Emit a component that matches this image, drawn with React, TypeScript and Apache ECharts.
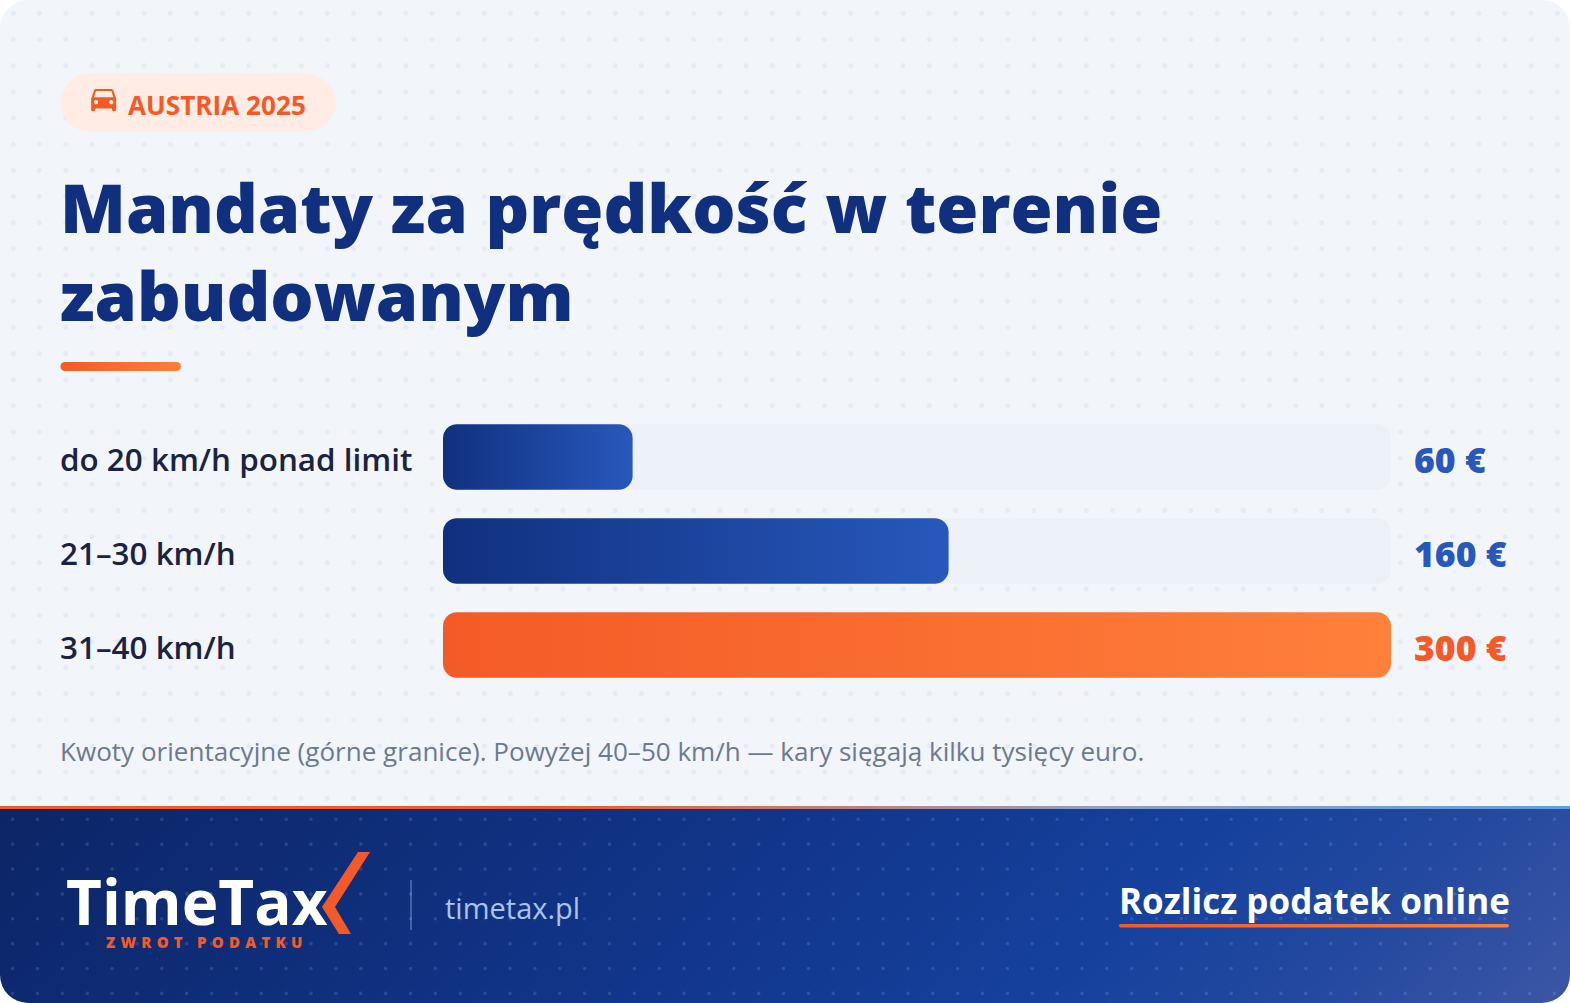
import { useEffect, useRef } from 'react';
import * as echarts from 'echarts';

const categories = ['do 20 km/h ponad limit', '21–30 km/h', '31–40 km/h'];
const fines = [60, 160, 300];
const unit = '€';

const FONT = '"Open Sans", "Noto Sans", sans-serif';
const NAVY = '#10307f';
const BLUE = '#2858bc';
const ORANGE = '#f45a27';
const ORANGE_LIGHT = '#ff803b';

const carIcon =
  'M18.92 6.01C18.72 5.42 18.16 5 17.5 5h-11c-.66 0-1.21.42-1.42 1.01L3 12v8c0 .55.45 1 1 1h1c.55 0 1-.45 1-1v-1h12v1c0 .55.45 1 1 1h1c.55 0 1-.45 1-1v-8l-2.08-5.99zM6.5 16c-.83 0-1.5-.67-1.5-1.5S5.67 13 6.5 13s1.5.67 1.5 1.5S7.33 16 6.5 16zm11 0c-.83 0-1.5-.67-1.5-1.5s.67-1.5 1.5-1.5 1.5.67 1.5 1.5-.67 1.5-1.5 1.5zM5 11l1.5-4.5h11L19 11H5z';

echarts.graphic.registerShape('carIcon', echarts.graphic.extendPath(carIcon, {}));
echarts.graphic.registerShape(
  'dotGrid',
  echarts.graphic.extendShape({
    shape: { x0: 0, y0: 0, step: 10, cols: 1, rows: 1, r: 1 },
    buildPath(ctx: any, s: any) {
      for (let i = 0; i < s.cols; i++) {
        for (let j = 0; j < s.rows; j++) {
          const x = s.x0 + i * s.step;
          const y = s.y0 + j * s.step;
          ctx.moveTo(x + s.r, y);
          ctx.arc(x, y, s.r, 0, Math.PI * 2);
        }
      }
    },
  }),
);

const hGradient = (from: string, to: string) =>
  new echarts.graphic.LinearGradient(0, 0, 1, 0, [
    { offset: 0, color: from },
    { offset: 1, color: to },
  ]);

const text = (
  x: number,
  y: number,
  value: string,
  fontSize: number,
  fontWeight: number,
  fill: string,
) => ({
  type: 'text',
  x,
  y,
  style: { text: value, fontFamily: FONT, fontSize, fontWeight, fill, textVerticalAlign: 'bottom' },
});

export default function App() {
  const ref = useRef<HTMLDivElement | null>(null);

  useEffect(() => {
    if (!ref.current) return;
    document.body.style.margin = '0';
    const chart = echarts.init(ref.current, undefined, { renderer: 'svg' });

    chart.setOption({
      animation: false,
      grid: { left: 443, width: 948, top: 410, height: 282, containLabel: false },
      xAxis: { type: 'value', min: 0, max: 300, show: false },
      yAxis: [
        {
          type: 'category',
          inverse: true,
          data: categories,
          axisLine: { show: false },
          axisTick: { show: false },
          axisLabel: {
            align: 'left',
            verticalAlign: 'top', // with the short line box this nudges the text below the band centre
            lineHeight: 2,
            margin: 383,
            color: '#1a2340',
            fontFamily: FONT,
            fontSize: 31.4,
            fontWeight: 600,
          },
        },
        {
          type: 'category',
          inverse: true,
          position: 'right',
          data: fines.map((v) => `${v} ${unit}`),
          axisLine: { show: false },
          axisTick: { show: false },
          axisLabel: {
            align: 'left',
            verticalAlign: 'top',
            lineHeight: 3,
            margin: 23,
            color: (_v: string, i: number) => (i === fines.length - 1 ? ORANGE : BLUE),
            fontFamily: FONT,
            fontSize: 35.6,
            fontWeight: 800,
          },
        },
      ],
      series: [
        {
          type: 'bar',
          barWidth: 65.5,
          showBackground: true,
          backgroundStyle: { color: '#ecf1f8', borderRadius: 14 },
          itemStyle: { borderRadius: 14 },
          data: fines.map((v, i) => ({
            value: v,
            itemStyle: {
              color: i === fines.length - 1 ? hGradient(ORANGE, ORANGE_LIGHT) : hGradient(NAVY, BLUE),
            },
          })),
        },
      ],
      graphic: [
        // card
        {
          type: 'rect',
          silent: true,
          shape: { x: 0, y: 0, width: 1570, height: 820, r: [28, 28, 0, 0] },
          style: { fill: '#f2f5fa' },
        },
        {
          type: 'dotGrid',
          silent: true,
          shape: { x0: 13.3, y0: 13.3, step: 26.17, cols: 60, rows: 31, r: 2.6 },
          style: { fill: '#e7ebf6' },
        },
        // badge
        {
          type: 'rect',
          shape: { x: 60.5, y: 73.5, width: 275, height: 58, r: 29 },
          style: { fill: '#ffece5' },
        },
        {
          type: 'carIcon',
          x: 87,
          y: 82,
          scaleX: 1.39,
          scaleY: 1.39,
          style: { fill: ORANGE },
        },
        text(128, 118, 'AUSTRIA 2025', 26.15, 700, ORANGE),
        // title
        text(60, 240, 'Mandaty za prędkość w terenie', 68.15, 800, NAVY),
        text(60, 328, 'zabudowanym', 68.15, 800, NAVY),
        {
          type: 'rect',
          shape: { x: 60.5, y: 362, width: 120.5, height: 9, r: 4.5 },
          style: { fill: hGradient(ORANGE, ORANGE_LIGHT) },
        },
        text(
          60,
          764,
          'Kwoty orientacyjne (górne granice). Powyżej 40–50 km/h — kary sięgają kilku tysięcy euro.',
          26.05,
          400,
          '#6b7a90',
        ),
        // footer
        {
          type: 'rect',
          silent: true,
          shape: { x: 0, y: 808, width: 1570, height: 195, r: [0, 0, 28, 28] },
          style: {
            fill: new echarts.graphic.LinearGradient(
              344,
              464,
              1226,
              1346,
              [
                { offset: 0, color: '#0c2566' },
                { offset: 0.5, color: '#12378e' },
                { offset: 0.7, color: '#15419d' },
                { offset: 0.85, color: '#24499f' },
                { offset: 1, color: '#3c56a6' },
              ],
              true,
            ),
          },
        },
        {
          type: 'rect',
          silent: true,
          shape: { x: 0, y: 806, width: 1570, height: 3 },
          style: {
            fill: new echarts.graphic.LinearGradient(0, 0, 1, 0, [
              { offset: 0, color: ORANGE },
              { offset: 0.35, color: ORANGE },
              { offset: 0.7, color: '#8f9fc4' },
              { offset: 1, color: '#5f9ee8' },
            ]),
          },
        },
        {
          type: 'dotGrid',
          silent: true,
          shape: { x0: 12.6, y0: 819.3, step: 24.87, cols: 63, rows: 8, r: 1.8 },
          style: { fill: 'rgba(255,255,255,0.12)' },
        },
        text(66, 932, 'TimeTax', 62, 700, '#ffffff'),
        {
          type: 'polygon',
          shape: {
            points: [
              [358, 852],
              [370, 852],
              [335, 907],
              [351, 934],
              [339, 934],
              [322, 907],
            ],
          },
          style: { fill: ORANGE },
        },
        text(106, 949, 'ZWROT PODATKU', 15, 800, ORANGE),
        {
          type: 'line',
          shape: { x1: 411, y1: 880, x2: 411, y2: 930 },
          style: { stroke: 'rgba(170,196,240,0.45)', lineWidth: 1.5 },
        },
        text(445, 922, 'timetax.pl', 29, 500, '#a9c4f0'),
        text(1119, 918, 'Rozlicz podatek online', 35, 700, '#ffffff'),
        {
          type: 'rect',
          shape: { x: 1119, y: 924, width: 390, height: 3.5, r: 1.75 },
          style: { fill: hGradient(ORANGE, ORANGE_LIGHT) },
        },
      ],
    });

    // zrender has no letter spacing, so set it on the rendered svg text
    ref.current.querySelectorAll('text').forEach((el) => {
      if (el.textContent === 'ZWROT PODATKU') el.style.letterSpacing = '5.25px';
    });

    return () => chart.dispose();
  }, []);

  return (
    <div
      ref={ref}
      style={{ position: 'absolute', left: 0, top: 0, width: 1570, height: 1003, background: '#fff' }}
    />
  );
}
